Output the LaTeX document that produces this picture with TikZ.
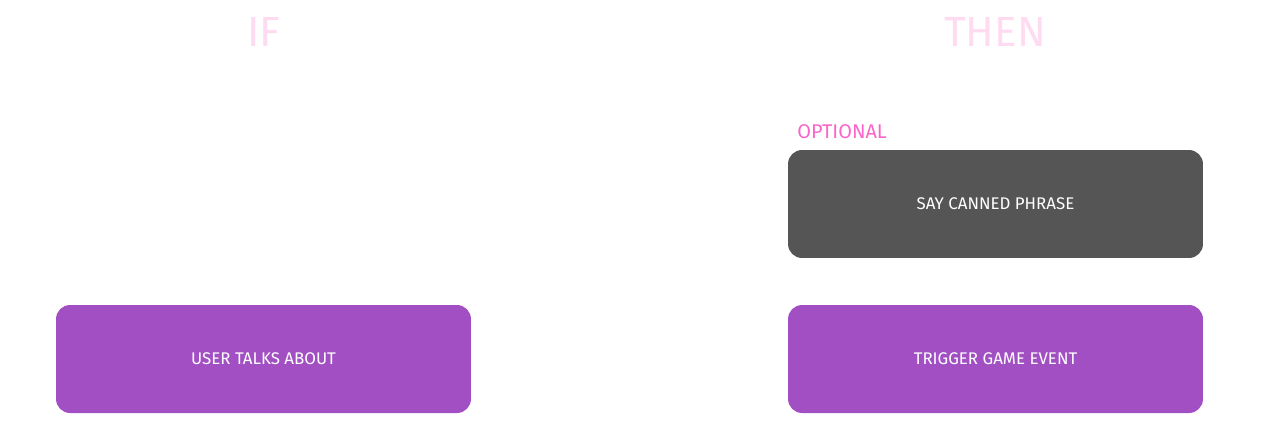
\documentclass[tikz,border=0pt]{standalone}
\usepackage{fontspec}
\setmainfont{Fira Sans}
\usepackage{tikz}
\usetikzlibrary{positioning}
\definecolor{actionc}{HTML}{A24FC4}
\definecolor{cannedc}{HTML}{555555}
\definecolor{optc}{HTML}{FB64C8}
\definecolor{headc}{HTML}{FFDBF1}

\begin{document}
\begin{tikzpicture}[
  x=0.02cm, y=-0.02cm,
  block/.style={rectangle, rounded corners=0.28cm, minimum width=8.3cm,
                minimum height=2.16cm, inner sep=0pt, text=white,
                font=\fontsize{9.6pt}{11pt}\selectfont},
  head/.style={text=headc, font=\fontsize{24pt}{28pt}\selectfont},
  tag/.style={text=optc, font=\fontsize{11.3pt}{13pt}\selectfont, inner sep=0pt}
]
\useasboundingbox (0,0) rectangle (1280,420);
% column headings
\node[head] (ifh) at (264,32) {IF};
\node[head] (thenh) at (995,32) {THEN};

% condition
\node[block, fill=actionc] (talk) at (263.5,359) {USER TALKS ABOUT};

% actions
\node[block, fill=cannedc] (say) at (995.5,204) {SAY CANNED PHRASE};
\node[block, fill=actionc] (event) at (995.5,359) {TRIGGER GAME EVENT};
\node[tag, anchor=south west] (opt) at (797,139) {OPTIONAL};
\end{tikzpicture}
\end{document}
